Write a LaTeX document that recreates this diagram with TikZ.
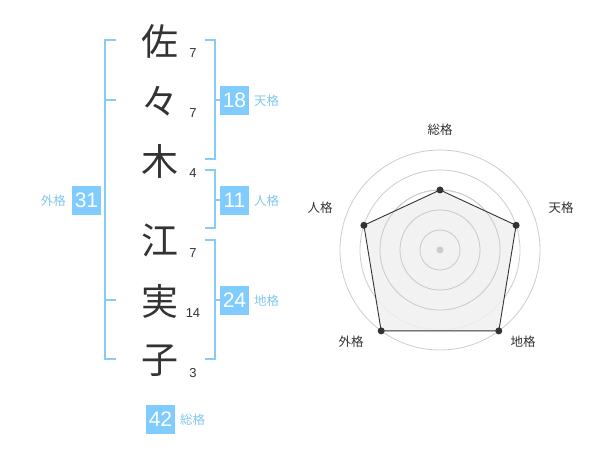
\documentclass[tikz,border=0pt]{standalone}
\usepackage{fontspec}
\setmainfont{Liberation Sans}
\newfontfamily\cjk{Noto Sans CJK JP}
\definecolor{boxblue}{HTML}{80CCFF}
\definecolor{brblue}{HTML}{86CCF6}
\definecolor{lblblue}{HTML}{80C8F0}
\definecolor{txtdark}{HTML}{333333}
\definecolor{ringgray}{HTML}{CCCCCC}
\definecolor{fillgray}{HTML}{F0F0F0}
\begin{document}
\begin{tikzpicture}[x=1pt,y=-1pt,
  kanji/.style={font=\cjk\fontsize{37}{37}\selectfont,text=txtdark,inner sep=0pt},
  stroke/.style={font=\fontsize{13}{13}\selectfont,text=txtdark,inner sep=0pt},
  numbox/.style={fill=boxblue,text=white,font=\fontsize{21}{21}\selectfont,minimum width=29pt,minimum height=29pt,inner sep=0pt},
  kaku/.style={text=lblblue,font=\cjk\fontsize{12.5}{12.5}\selectfont,inner sep=0pt},
  bracket/.style={draw=brblue,line width=2pt},
  ring/.style={draw=ringgray,line width=0.8pt},
  rlabel/.style={text=txtdark,font=\cjk\fontsize{12.5}{12.5}\selectfont,inner sep=0pt},
  dot/.style={circle,fill=txtdark,inner sep=0pt,minimum size=7pt}]
\useasboundingbox (0,0) rectangle (600,470);
% characters
\node[kanji] (c1) at (160,41) {佐};
\node[kanji] (c2) at (160,101) {々};
\node[kanji] (c3) at (160,161) {木};
\node[kanji] (c4) at (160,240) {江};
\node[kanji] (c5) at (160,301) {実};
\node[kanji] (c6) at (160,361) {子};
\node[stroke] (s1) at (193,53) {7};
\node[stroke] (s2) at (193,113) {7};
\node[stroke] (s3) at (193,173) {4};
\node[stroke] (s4) at (193,253) {7};
\node[stroke] (s5) at (193,313) {14};
\node[stroke] (s6) at (193,373) {3};
% left bracket
\draw[bracket] (116,40) -- (105,40) -- (105,359) -- (116,359);
\draw[bracket] (105,100) -- (116,100);
\draw[bracket] (105,300) -- (116,300);
% right brackets
\draw[bracket] (205,40) -- (215,40) -- (215,159) -- (205,159);
\draw[bracket] (215,100) -- (222,100);
\draw[bracket] (205,170) -- (215,170) -- (215,228) -- (205,228);
\draw[bracket] (215,200) -- (222,200);
\draw[bracket] (205,240) -- (215,240) -- (215,359) -- (205,359);
\draw[bracket] (215,300) -- (222,300);
% boxes
\node[numbox] (b18) at (234.5,100.5) {18};
\node[kaku,anchor=west] (k18) at (254,101) {天格};
\node[numbox] (b11) at (234.5,200.5) {11};
\node[kaku,anchor=west] (k11) at (254,201) {人格};
\node[numbox] (b24) at (234.5,300.5) {24};
\node[kaku,anchor=west] (k24) at (254,301) {地格};
\node[numbox] (b31) at (86.5,200.5) {31};
\node[kaku,anchor=east] (k31) at (66,201) {外格};
\node[numbox] (b42) at (160.5,419) {42};
\node[kaku,anchor=west] (k42) at (180,420) {総格};
% radar
\coordinate (o) at (440,250);
\foreach \r in {20,40,60,80,100} \draw[ring] (o) circle (\r);
\coordinate (p1) at (440,190);
\coordinate (p2) at (516.1,225.3);
\coordinate (p3) at (498.8,330.9);
\coordinate (p4) at (381.2,330.9);
\coordinate (p5) at (363.9,225.3);
\fill[fillgray,opacity=0.85] (p1) -- (p2) -- (p3) -- (p4) -- (p5) -- cycle;
\foreach \r in {20,40,60} \draw[ring] (o) circle (\r);
\draw[txtdark,line width=0.9pt] (p1) -- (p2) -- (p3) -- (p4) -- (p5) -- cycle;
\node[circle,fill=ringgray,inner sep=0pt,minimum size=7pt] (oc) at (o) {};
\node[dot] (d1) at (p1) {};
\node[dot] (d2) at (p2) {};
\node[dot] (d3) at (p3) {};
\node[dot] (d4) at (p4) {};
\node[dot] (d5) at (p5) {};
\node[rlabel] (r1) at (440,130) {総格};
\node[rlabel] (r2) at (561,208) {天格};
\node[rlabel] (r3) at (320,208) {人格};
\node[rlabel] (r4) at (351,342) {外格};
\node[rlabel] (r5) at (523,342) {地格};
\end{tikzpicture}
\end{document}
